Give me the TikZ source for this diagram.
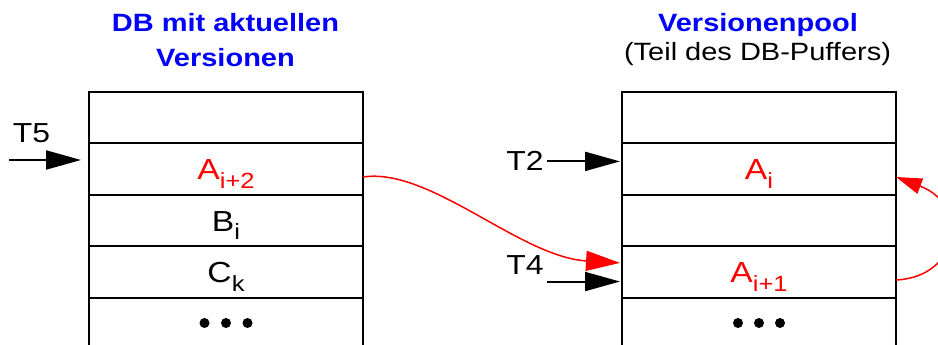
\documentclass[tikz,border=0pt]{standalone}
\usepackage{fontspec}
\setmainfont{Liberation Sans}[FakeStretch=1.16]
\usetikzlibrary{arrows.meta, calc, positioning}

\newcommand{\subx}[1]{\raisebox{-8.5pt}{\fontsize{22}{22}\selectfont #1}}

\begin{document}
\begin{tikzpicture}[x=1pt, y=1pt]

    % Define styles
    \tikzset{
        frame/.style={line width=1.7pt, black},
        cell/.style={draw, line width=1.7pt, minimum width=274pt, minimum height=52pt,
            inner sep=0pt, outer sep=0pt, text height=32pt, text depth=10pt,
            font=\fontsize{29}{29}\selectfont},
        thin cell/.style={cell, minimum height=51pt},
        redcell/.style={cell, text=red},
        heading/.style={blue, font=\fontsize{25}{35}\selectfont\bfseries, align=center, anchor=base},
        note/.style={font=\fontsize{25}{35}\selectfont, anchor=base},
        tlabel/.style={font=\fontsize{27.5}{27.5}\selectfont, anchor=base},
        blackarrow/.style={-{Triangle[length=35pt, width=19pt]}, line width=2pt},
        redarrow/.style={-{Triangle[length=34pt, width=20pt]}, red, line width=1.5pt},
        smallredarrow/.style={-{Triangle[length=26pt, width=16pt]}, red, line width=1.5pt}
    }

    \useasboundingbox (0,0) rectangle (938,345);

    % 1. Headings (base = last line)
    \node[heading] (dbTitle) at (225.5,278.3) {DB mit aktuellen\\Versionen};
    \node[heading] (poolTitle) at (758,313) {Versionenpool};
    \node[note] (poolNote) at (757.5,284) {(Teil des DB-Puffers)};

    % 2. DB with current versions
    \node[thin cell] (dbTop) at (226,227.5) {};
    \node[redcell, below=0pt of dbTop] (dbA) {A\subx{i+2}};
    \node[thin cell, below=0pt of dbA] (dbB) {B\subx{i}};
    \node[cell, below=0pt of dbB] (dbC) {C\subx{k}};
    % open bottom row
    \draw[frame] (dbC.south west) -- ++(0,-47);
    \draw[frame] (dbC.south east) -- ++(0,-47);
    \foreach \dx in {-21.5, 0, 21.5}
        \fill ($(dbC.south)+(\dx,-25)$) circle (5pt);

    % 3. Version pool
    \node[thin cell] (poolTop) at (759,227.5) {};
    \node[redcell, below=0pt of poolTop] (poolA) {A\subx{i}};
    \node[thin cell, below=0pt of poolA] (poolMid) {};
    \node[redcell, below=0pt of poolMid] (poolAn) {A\subx{i+1}};
    % open bottom row
    \draw[frame] (poolAn.south west) -- ++(0,-47);
    \draw[frame] (poolAn.south east) -- ++(0,-47);
    \foreach \dx in {-21, 0, 21}
        \fill ($(poolAn.south)+(\dx,-25)$) circle (5pt);

    % 4. Transactions
    \node[tlabel] (T5) at (31.5,202) {T5};
    \coordinate (T5start) at (9,185);
    \draw[blackarrow, shorten >=8pt] (T5start) -- (T5start -| dbA.west);

    \node[tlabel] (T2) at (525,174) {T2};
    \draw[blackarrow, shorten >=2pt] (T2.east) -- (T2.east -| poolA.west);

    \node[tlabel] (T4) at (525,70) {T4};
    \coordinate (T4start) at ([yshift=-3pt]T4.south east);
    \draw[blackarrow, shorten >=2pt] (T4start) -- (T4start -| poolAn.west);

    % 5. Red version chain
    \draw[redarrow, shorten >=2pt] ([yshift=-8pt]dbA.east)
        .. controls +(67,10) and +(-102,6) .. ([yshift=9pt]poolAn.west);
    \draw[smallredarrow] ([yshift=-8pt]poolAn.east)
        .. controls +(64,3) and +(74,-28) .. ([yshift=-8pt]poolA.east);

\end{tikzpicture}
\end{document}
